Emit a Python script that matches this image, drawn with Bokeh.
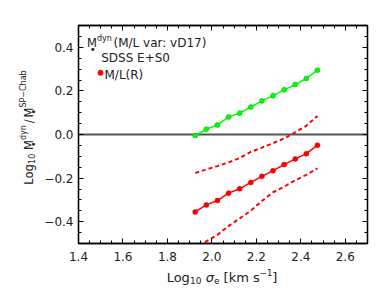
import math
from bokeh.plotting import figure
from bokeh.layouts import column, row
from bokeh.models import (Range1d, LinearAxis, SingleIntervalTicker, Span, Label,
                          CustomJSTickFormatter)
from bokeh.embed import file_html
from bokeh.resources import INLINE

# ---- data ----
sigma = [1.925, 1.975, 2.025, 2.075, 2.125, 2.175, 2.225, 2.275, 2.325, 2.375, 2.425, 2.475]
green_dyn = [-0.005, 0.024, 0.044, 0.080, 0.098, 0.126, 0.154, 0.178, 0.205, 0.229, 0.257, 0.295]
red_ml = [-0.355, -0.323, -0.303, -0.269, -0.249, -0.220, -0.192, -0.166, -0.138, -0.112, -0.088, -0.049]
red_hi = [-0.177, -0.160, -0.145, -0.128, -0.108, -0.080, -0.060, -0.040, -0.018, 0.010, 0.040, 0.085]
red_lo = [-0.540, -0.490, -0.460, -0.420, -0.385, -0.350, -0.305, -0.265, -0.240, -0.210, -0.185, -0.155]
x_range = (1.4, 2.7)
y_range = (-0.5, 0.5)

FONT = "DejaVu Sans"
TXT = "#222222"

# geometry (page pixels)
YLAB_W = 40
FX0, FY0, FW, FH = 78, 25, 289, 218
MAIN_LEFT = FX0 - YLAB_W
MAIN_RIGHT, MAIN_BOTTOM = 15, 23
MAIN_H = FY0 + FH + MAIN_BOTTOM
XLAB_H = 26

p = figure(output_backend="svg", toolbar_location=None,
           frame_width=FW, frame_height=FH,
           min_border_left=MAIN_LEFT, min_border_top=FY0,
           min_border_right=MAIN_RIGHT, min_border_bottom=MAIN_BOTTOM,
           x_range=Range1d(*x_range), y_range=Range1d(*y_range),
           background_fill_color="white", border_fill_color="white")
p.grid.visible = False
p.outline_line_color = "black"
p.outline_line_width = 1.3

fmt = CustomJSTickFormatter(code="return (Math.round(tick*10)/10).toFixed(1).replace('-', '\u2212');")
blank = CustomJSTickFormatter(code="return '';")

def style_axis(ax, labels=True, standoff=5):
    ax.axis_line_color = "black"
    ax.axis_line_width = 1.3
    ax.major_tick_in = 5
    ax.major_tick_out = 0
    ax.minor_tick_in = 3
    ax.minor_tick_out = 0
    ax.major_tick_line_color = "black"
    ax.minor_tick_line_color = "black"
    ax.major_tick_line_width = 1
    ax.minor_tick_line_width = 1
    if labels:
        ax.major_label_text_font = FONT
        ax.major_label_text_font_size = "12px"
        ax.major_label_text_color = TXT
        ax.major_label_standoff = standoff
        ax.formatter = fmt
    else:
        ax.formatter = blank
        ax.major_label_standoff = 0

p.xaxis.ticker = SingleIntervalTicker(interval=0.2, num_minor_ticks=4)
p.yaxis.ticker = SingleIntervalTicker(interval=0.2, num_minor_ticks=4)
style_axis(p.xaxis[0], True, 8)
style_axis(p.yaxis[0], True, 5)
top = LinearAxis(ticker=SingleIntervalTicker(interval=0.2, num_minor_ticks=4))
right = LinearAxis(ticker=SingleIntervalTicker(interval=0.2, num_minor_ticks=4))
style_axis(top, False)
style_axis(right, False)
p.add_layout(top, "above")
p.add_layout(right, "right")

# zero line
p.add_layout(Span(location=0, dimension="width", line_color="#555555", line_width=2, level="underlay"))

# data
p.line(sigma, red_hi, line_color="#ff0000", line_width=2, line_dash="4 3")
p.line(sigma, red_lo, line_color="#ff0000", line_width=2, line_dash="4 3")
p.line(sigma, red_ml, line_color="#ff0000", line_width=1.5)
p.scatter(sigma, red_ml, size=5, fill_color="#ff0000", line_color="#cc0000", line_width=0.5)
p.line(sigma, green_dyn, line_color="#00ff00", line_width=1.5)
p.scatter(sigma, green_dyn, size=5, fill_color="#00ff00", line_color="#00b000", line_width=0.5)

# label figures: their frames are made to coincide with the main frame's span
def blank_fig(fw, fh, left, right, top_b, bottom_b):
    f = figure(output_backend="svg", toolbar_location=None, frame_width=fw, frame_height=fh,
               min_border_left=left, min_border_right=right,
               min_border_top=top_b, min_border_bottom=bottom_b,
               x_range=Range1d(0, fw), y_range=Range1d(0, fh),
               x_axis_location=None, y_axis_location=None,
               background_fill_color="white", border_fill_color="white")
    f.grid.visible = False
    f.outline_line_color = None
    return f

ylab = blank_fig(YLAB_W, FH, 0, 0, FY0, MAIN_BOTTOM + XLAB_H)
xlab = blank_fig(FW, XLAB_H, MAIN_LEFT, MAIN_RIGHT, 0, 0)

# page pixel -> data mappings per figure
MAP = {
    "main": (p, lambda X: x_range[0] + (X - FX0) / FW * (x_range[1] - x_range[0]),
                lambda Y: y_range[1] - (Y - FY0) / FH * (y_range[1] - y_range[0])),
    "ylab": (ylab, lambda X: X, lambda Y: FY0 + FH - Y),
    "xlab": (xlab, lambda X: X - FX0, lambda Y: MAIN_H + XLAB_H - Y),
}

W = {'L': 0.557, 'o': 0.612, 'g': 0.635, '1': 0.636, '0': 0.636, ' ': 0.318, 'σ': 0.634,
     'e': 0.615, '[': 0.390, 'k': 0.579, 'm': 0.974, 's': 0.521, ']': 0.390, '−': 0.838,
     'M': 0.863, 'd': 0.635, 'y': 0.592, 'n': 0.634, '/': 0.337, 'S': 0.635, 'P': 0.603,
     'C': 0.698, 'h': 0.634, 'a': 0.613, 'b': 0.635, '•': 0.590}

def twidth(t, size):
    return sum(W.get(c, 0.6) for c in t) * size

def put(where, text, X, Y, size, angle=0.0, color=TXT, style="normal"):
    fig, fx, fy = MAP[where]
    fig.add_layout(Label(x=fx(X), y=fy(Y), text=text, text_font=FONT,
                         text_font_size=f"{size}px", text_color=color,
                         text_baseline="alphabetic", text_align="left",
                         angle=angle, text_font_style=style))

def runs(where, items, X, Y, vertical=False):
    cur = 0.0
    for it in items:
        text, size, shift = it[0], it[1], it[2]
        adv = it[3] if len(it) > 3 else True
        back = it[4] if len(it) > 4 else 0.0
        style = it[5] if len(it) > 5 else "normal"
        pos = cur - back
        if text.strip():
            if vertical:
                put(where, text, X - shift, Y - pos, size, angle=math.pi / 2, style=style)
            else:
                put(where, text, X + pos, Y - shift, size, style=style)
        if adv:
            cur += twidth(text, size)

def width_of(items):
    return sum(twidth(i[0], i[1]) for i in items if (len(i) < 4 or i[3]))

BUL = ("•", 11, -6, False, 7.5)
BUL_Y = ("•", 10, -5, False, 7.2)

# x-axis label
xl = [("Log", 13, 0), ("10", 9, -3), (" ", 13, 0), ("σ", 13, 0, True, 0, "italic"),
      ("e", 9, -3), (" ", 13, 0), ("[km s", 13, 0), ("−1", 8.5, 5.5), ("]", 13, 0)]
runs("xlab", xl, FX0 + FW / 2 - 1 - width_of(xl) / 2, 277)

# y-axis label (rotated)
yl = [("Log", 11.5, 0), ("10", 8, -3), (" ", 11.5, 0), ("M", 11.5, 0),
      BUL_Y, ("dyn", 8, 5), (" ", 6, 0), ("/", 11.5, 0), (" ", 6, 0),
      ("M", 11.5, 0), BUL_Y, ("SP−Chab", 8, 5)]
runs("ylab", yl, 28, 127 + width_of(yl) / 2, vertical=True)

# annotation block inside the frame
runs("main", [("M", 11.5, 0), BUL, ("dyn", 8, 5)], 86.5, 42.7)
put("main", "(M/L var: vD17)", 113, 42.7, 12)
put("main", "SDSS E+S0", 100.7, 57.5, 12)
put("main", "M/L(R)", 104, 74, 12)
_, fx, fy = MAP["main"]
p.scatter([fx(100)], [fy(72.3)], size=5, fill_color="#ff0000", line_color="#ff0000")

layout = row(ylab, column(p, xlab))
open("out.html", "w").write(file_html(layout, INLINE))
